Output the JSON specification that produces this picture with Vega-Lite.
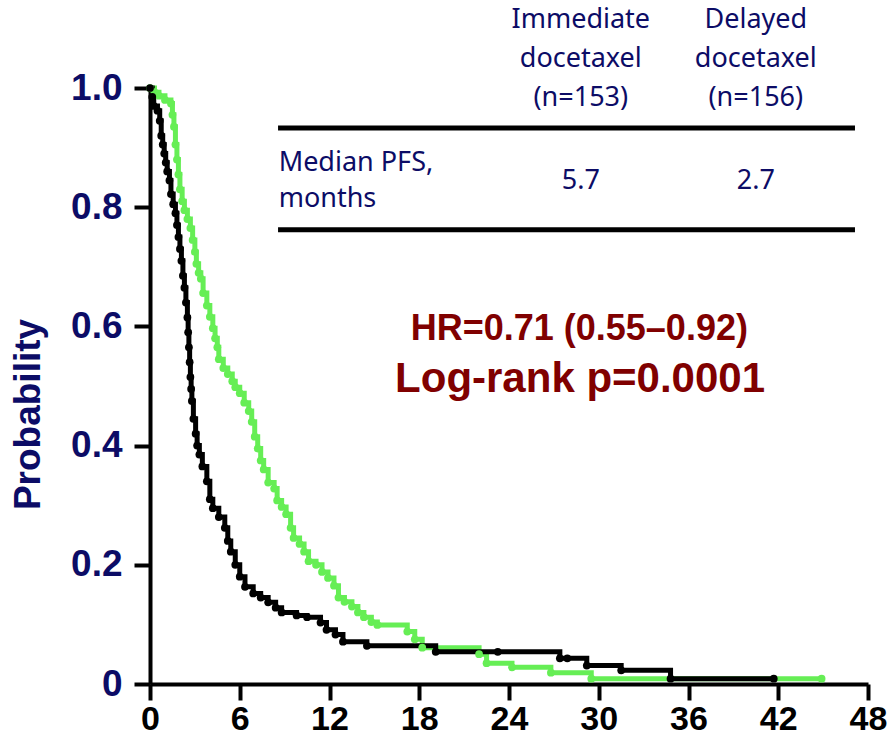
{
  "$schema": "https://vega.github.io/schema/vega-lite/v6.json",
  "width": 718,
  "height": 596,
  "autosize": "none",
  "padding": {"left": 150, "top": 88, "right": 21, "bottom": 55},
  "background": "white",
  "config": {"view": {"stroke": null}, "text": {"lineBreak": "\n"}},
  "datasets": {
    "km": [
      {"arm": "Immediate docetaxel", "t": 0, "s": 1.0},
      {"arm": "Immediate docetaxel", "t": 0.3, "s": 0.993},
      {"arm": "Immediate docetaxel", "t": 0.6, "s": 0.987},
      {"arm": "Immediate docetaxel", "t": 1.0, "s": 0.98},
      {"arm": "Immediate docetaxel", "t": 1.4, "s": 0.974},
      {"arm": "Immediate docetaxel", "t": 1.5, "s": 0.955},
      {"arm": "Immediate docetaxel", "t": 1.6, "s": 0.935},
      {"arm": "Immediate docetaxel", "t": 1.7, "s": 0.905},
      {"arm": "Immediate docetaxel", "t": 1.8, "s": 0.88},
      {"arm": "Immediate docetaxel", "t": 1.9, "s": 0.855},
      {"arm": "Immediate docetaxel", "t": 2.0, "s": 0.83},
      {"arm": "Immediate docetaxel", "t": 2.15, "s": 0.81},
      {"arm": "Immediate docetaxel", "t": 2.3, "s": 0.795},
      {"arm": "Immediate docetaxel", "t": 2.5, "s": 0.78},
      {"arm": "Immediate docetaxel", "t": 2.7, "s": 0.765},
      {"arm": "Immediate docetaxel", "t": 2.85, "s": 0.745},
      {"arm": "Immediate docetaxel", "t": 3.0, "s": 0.725},
      {"arm": "Immediate docetaxel", "t": 3.1, "s": 0.705},
      {"arm": "Immediate docetaxel", "t": 3.25, "s": 0.69},
      {"arm": "Immediate docetaxel", "t": 3.4, "s": 0.68},
      {"arm": "Immediate docetaxel", "t": 3.55, "s": 0.656},
      {"arm": "Immediate docetaxel", "t": 3.8, "s": 0.635},
      {"arm": "Immediate docetaxel", "t": 4.0, "s": 0.616},
      {"arm": "Immediate docetaxel", "t": 4.2, "s": 0.597},
      {"arm": "Immediate docetaxel", "t": 4.35, "s": 0.58},
      {"arm": "Immediate docetaxel", "t": 4.5, "s": 0.565},
      {"arm": "Immediate docetaxel", "t": 4.6, "s": 0.545},
      {"arm": "Immediate docetaxel", "t": 4.9, "s": 0.53},
      {"arm": "Immediate docetaxel", "t": 5.2, "s": 0.52},
      {"arm": "Immediate docetaxel", "t": 5.5, "s": 0.508},
      {"arm": "Immediate docetaxel", "t": 5.7, "s": 0.498},
      {"arm": "Immediate docetaxel", "t": 6.0, "s": 0.488},
      {"arm": "Immediate docetaxel", "t": 6.3, "s": 0.472},
      {"arm": "Immediate docetaxel", "t": 6.6, "s": 0.458},
      {"arm": "Immediate docetaxel", "t": 6.8, "s": 0.44},
      {"arm": "Immediate docetaxel", "t": 7.0, "s": 0.415},
      {"arm": "Immediate docetaxel", "t": 7.2, "s": 0.395},
      {"arm": "Immediate docetaxel", "t": 7.4, "s": 0.375},
      {"arm": "Immediate docetaxel", "t": 7.6, "s": 0.36},
      {"arm": "Immediate docetaxel", "t": 7.9, "s": 0.338},
      {"arm": "Immediate docetaxel", "t": 8.3, "s": 0.328},
      {"arm": "Immediate docetaxel", "t": 8.5, "s": 0.308},
      {"arm": "Immediate docetaxel", "t": 8.8, "s": 0.297},
      {"arm": "Immediate docetaxel", "t": 9.1, "s": 0.285},
      {"arm": "Immediate docetaxel", "t": 9.4, "s": 0.262},
      {"arm": "Immediate docetaxel", "t": 9.6, "s": 0.245},
      {"arm": "Immediate docetaxel", "t": 10.0, "s": 0.235},
      {"arm": "Immediate docetaxel", "t": 10.3, "s": 0.222},
      {"arm": "Immediate docetaxel", "t": 10.6, "s": 0.206},
      {"arm": "Immediate docetaxel", "t": 11.1, "s": 0.2},
      {"arm": "Immediate docetaxel", "t": 11.5, "s": 0.188},
      {"arm": "Immediate docetaxel", "t": 11.9, "s": 0.178},
      {"arm": "Immediate docetaxel", "t": 12.3, "s": 0.165},
      {"arm": "Immediate docetaxel", "t": 12.6, "s": 0.145},
      {"arm": "Immediate docetaxel", "t": 13.0, "s": 0.138},
      {"arm": "Immediate docetaxel", "t": 13.5, "s": 0.13},
      {"arm": "Immediate docetaxel", "t": 13.9, "s": 0.12},
      {"arm": "Immediate docetaxel", "t": 14.3, "s": 0.112},
      {"arm": "Immediate docetaxel", "t": 14.8, "s": 0.104},
      {"arm": "Immediate docetaxel", "t": 15.2, "s": 0.099},
      {"arm": "Immediate docetaxel", "t": 17.2, "s": 0.088},
      {"arm": "Immediate docetaxel", "t": 17.7, "s": 0.075},
      {"arm": "Immediate docetaxel", "t": 18.2, "s": 0.061},
      {"arm": "Immediate docetaxel", "t": 22.0, "s": 0.05},
      {"arm": "Immediate docetaxel", "t": 22.5, "s": 0.035},
      {"arm": "Immediate docetaxel", "t": 24.2, "s": 0.028},
      {"arm": "Immediate docetaxel", "t": 26.8, "s": 0.019},
      {"arm": "Immediate docetaxel", "t": 29.5, "s": 0.009},
      {"arm": "Immediate docetaxel", "t": 44.9, "s": 0.009},
      {"arm": "Delayed docetaxel", "t": 0, "s": 1.0},
      {"arm": "Delayed docetaxel", "t": 0.15, "s": 0.985},
      {"arm": "Delayed docetaxel", "t": 0.25, "s": 0.97},
      {"arm": "Delayed docetaxel", "t": 0.5, "s": 0.962},
      {"arm": "Delayed docetaxel", "t": 0.65, "s": 0.945},
      {"arm": "Delayed docetaxel", "t": 0.75, "s": 0.92},
      {"arm": "Delayed docetaxel", "t": 0.85, "s": 0.905},
      {"arm": "Delayed docetaxel", "t": 0.95, "s": 0.89},
      {"arm": "Delayed docetaxel", "t": 1.05, "s": 0.875},
      {"arm": "Delayed docetaxel", "t": 1.15, "s": 0.86},
      {"arm": "Delayed docetaxel", "t": 1.3, "s": 0.845},
      {"arm": "Delayed docetaxel", "t": 1.4, "s": 0.822},
      {"arm": "Delayed docetaxel", "t": 1.55, "s": 0.805},
      {"arm": "Delayed docetaxel", "t": 1.7, "s": 0.79},
      {"arm": "Delayed docetaxel", "t": 1.8, "s": 0.77},
      {"arm": "Delayed docetaxel", "t": 1.9, "s": 0.75},
      {"arm": "Delayed docetaxel", "t": 2.0, "s": 0.73},
      {"arm": "Delayed docetaxel", "t": 2.1, "s": 0.71},
      {"arm": "Delayed docetaxel", "t": 2.2, "s": 0.685},
      {"arm": "Delayed docetaxel", "t": 2.3, "s": 0.665},
      {"arm": "Delayed docetaxel", "t": 2.4, "s": 0.64},
      {"arm": "Delayed docetaxel", "t": 2.5, "s": 0.615},
      {"arm": "Delayed docetaxel", "t": 2.55, "s": 0.59},
      {"arm": "Delayed docetaxel", "t": 2.6, "s": 0.565},
      {"arm": "Delayed docetaxel", "t": 2.65, "s": 0.54},
      {"arm": "Delayed docetaxel", "t": 2.7, "s": 0.515},
      {"arm": "Delayed docetaxel", "t": 2.75, "s": 0.495},
      {"arm": "Delayed docetaxel", "t": 2.8, "s": 0.475},
      {"arm": "Delayed docetaxel", "t": 2.9, "s": 0.445},
      {"arm": "Delayed docetaxel", "t": 3.05, "s": 0.42},
      {"arm": "Delayed docetaxel", "t": 3.15, "s": 0.4},
      {"arm": "Delayed docetaxel", "t": 3.3, "s": 0.385},
      {"arm": "Delayed docetaxel", "t": 3.5, "s": 0.365},
      {"arm": "Delayed docetaxel", "t": 3.8, "s": 0.34},
      {"arm": "Delayed docetaxel", "t": 4.0, "s": 0.31},
      {"arm": "Delayed docetaxel", "t": 4.2, "s": 0.295},
      {"arm": "Delayed docetaxel", "t": 4.6, "s": 0.28},
      {"arm": "Delayed docetaxel", "t": 5.0, "s": 0.262},
      {"arm": "Delayed docetaxel", "t": 5.2, "s": 0.24},
      {"arm": "Delayed docetaxel", "t": 5.4, "s": 0.222},
      {"arm": "Delayed docetaxel", "t": 5.7, "s": 0.2},
      {"arm": "Delayed docetaxel", "t": 6.0, "s": 0.18},
      {"arm": "Delayed docetaxel", "t": 6.35, "s": 0.163},
      {"arm": "Delayed docetaxel", "t": 6.9, "s": 0.152},
      {"arm": "Delayed docetaxel", "t": 7.4, "s": 0.145},
      {"arm": "Delayed docetaxel", "t": 7.9, "s": 0.137},
      {"arm": "Delayed docetaxel", "t": 8.4, "s": 0.128},
      {"arm": "Delayed docetaxel", "t": 8.8, "s": 0.12},
      {"arm": "Delayed docetaxel", "t": 9.8, "s": 0.115},
      {"arm": "Delayed docetaxel", "t": 10.5, "s": 0.112},
      {"arm": "Delayed docetaxel", "t": 11.4, "s": 0.103},
      {"arm": "Delayed docetaxel", "t": 11.8, "s": 0.091},
      {"arm": "Delayed docetaxel", "t": 12.4, "s": 0.083},
      {"arm": "Delayed docetaxel", "t": 12.9, "s": 0.071},
      {"arm": "Delayed docetaxel", "t": 14.5, "s": 0.064},
      {"arm": "Delayed docetaxel", "t": 19.1, "s": 0.054},
      {"arm": "Delayed docetaxel", "t": 23.25, "s": 0.054},
      {"arm": "Delayed docetaxel", "t": 27.4, "s": 0.043},
      {"arm": "Delayed docetaxel", "t": 27.9, "s": 0.043},
      {"arm": "Delayed docetaxel", "t": 29.2, "s": 0.031},
      {"arm": "Delayed docetaxel", "t": 31.5, "s": 0.023},
      {"arm": "Delayed docetaxel", "t": 34.8, "s": 0.009},
      {"arm": "Delayed docetaxel", "t": 41.7, "s": 0.009}
    ]
  },
  "layer": [
    {
      "data": {"name": "km"},
      "mark": {"type": "line", "interpolate": "step-after", "strokeWidth": 5},
      "encoding": {
        "x": {"field": "t", "type": "quantitative", "scale": {"domain": [0, 48], "nice": false, "zero": false},
          "axis": {"values": [0, 6, 12, 18, 24, 30, 36, 42, 48], "title": null, "grid": false,
            "domainColor": "black", "domainWidth": 4, "tickColor": "black", "tickWidth": 4, "tickSize": 16,
            "labelFont": "Liberation Sans", "labelFontWeight": "bold", "labelFontSize": 34, "labelColor": "black",
            "labelPadding": 2, "labelFlush": false, "labelOverlap": false}},
        "y": {"field": "s", "type": "quantitative", "scale": {"domain": [0, 1], "nice": false},
          "axis": {"values": [0, 0.2, 0.4, 0.6, 0.8, 1.0], "title": "Probability", "grid": false,
            "labelExpr": "datum.value == 0 ? '0' : format(datum.value, '.1f')",
            "domainColor": "black", "domainWidth": 4, "tickColor": "black", "tickWidth": 4, "tickSize": 16,
            "labelFont": "Liberation Sans", "labelFontWeight": "bold", "labelFontSize": 37, "labelColor": "#0c0c66",
            "labelPadding": 12, "labelFlush": false, "labelOverlap": false,
            "titleFont": "Liberation Sans", "titleFontWeight": "bold", "titleFontSize": 37, "titleColor": "#0c0c66",
            "titlePadding": 23, "titleY": 326}},
        "color": {"field": "arm", "type": "nominal",
          "scale": {"domain": ["Immediate docetaxel", "Delayed docetaxel"], "range": ["#66ee55", "#000000"]},
          "legend": null},
        "order": {"field": "t", "type": "quantitative"}
      }
    },
    {
      "data": {"name": "km"},
      "mark": {"type": "point", "filled": true, "opacity": 1, "size": 60},
      "encoding": {
        "x": {"field": "t", "type": "quantitative"},
        "y": {"field": "s", "type": "quantitative"},
        "color": {"field": "arm", "type": "nominal", "legend": null}
      }
    },
    {
      "data": {"values": [{"row": "header"}]},
      "mark": {"type": "rule", "strokeWidth": 5, "color": "black"},
      "encoding": {"x": {"datum": 8.56}, "x2": {"datum": 47.13}, "y": {"datum": 0.933}}
    },
    {
      "data": {"values": [{"row": "footer"}]},
      "mark": {"type": "rule", "strokeWidth": 5, "color": "black"},
      "encoding": {"x": {"datum": 8.56}, "x2": {"datum": 47.13}, "y": {"datum": 0.762}}
    },
    {
      "data": {"values": [{"label": "Immediate\ndocetaxel\n(n=153)"}]},
      "mark": {"type": "text", "align": "center", "baseline": "middle", "font": "Noto Sans", "fontSize": 27, "lineHeight": 39, "color": "#0c0c66"},
      "encoding": {"x": {"datum": 28.8}, "y": {"datum": 1.114}, "text": {"field": "label"}}
    },
    {
      "data": {"values": [{"label": "Delayed\ndocetaxel\n(n=156)"}]},
      "mark": {"type": "text", "align": "center", "baseline": "middle", "font": "Noto Sans", "fontSize": 27, "lineHeight": 39, "color": "#0c0c66"},
      "encoding": {"x": {"datum": 40.5}, "y": {"datum": 1.114}, "text": {"field": "label"}}
    },
    {
      "data": {"values": [{"label": "Median PFS,\nmonths"}]},
      "mark": {"type": "text", "align": "left", "baseline": "middle", "font": "Noto Sans", "fontSize": 27, "lineHeight": 36, "color": "#0c0c66"},
      "encoding": {"x": {"datum": 8.6}, "y": {"datum": 0.874}, "text": {"field": "label"}}
    },
    {
      "data": {"values": [{"label": "5.7"}]},
      "mark": {"type": "text", "align": "center", "baseline": "middle", "font": "Noto Sans", "fontSize": 27, "color": "#0c0c66"},
      "encoding": {"x": {"datum": 28.8}, "y": {"datum": 0.844}, "text": {"field": "label"}}
    },
    {
      "data": {"values": [{"label": "2.7"}]},
      "mark": {"type": "text", "align": "center", "baseline": "middle", "font": "Noto Sans", "fontSize": 27, "color": "#0c0c66"},
      "encoding": {"x": {"datum": 40.5}, "y": {"datum": 0.844}, "text": {"field": "label"}}
    },
    {
      "data": {"values": [{"label": "HR=0.71 (0.55–0.92)"}]},
      "mark": {"type": "text", "align": "center", "baseline": "alphabetic", "font": "Liberation Sans", "fontWeight": "bold", "fontSize": 36, "color": "#800000"},
      "encoding": {"x": {"datum": 28.7}, "y": {"datum": 0.577}, "text": {"field": "label"}}
    },
    {
      "data": {"values": [{"label": "Log-rank p=0.0001"}]},
      "mark": {"type": "text", "align": "center", "baseline": "alphabetic", "font": "Liberation Sans", "fontWeight": "bold", "fontSize": 42, "color": "#800000"},
      "encoding": {"x": {"datum": 28.75}, "y": {"datum": 0.49}, "text": {"field": "label"}}
    }
  ]
}
